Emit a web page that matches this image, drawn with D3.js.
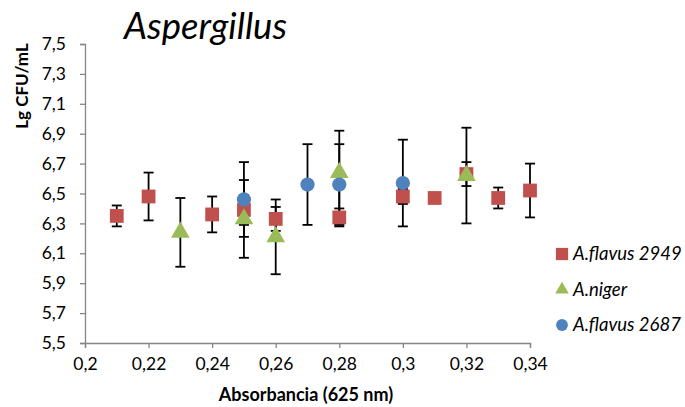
<!DOCTYPE html>
<html>
<head>
<meta charset="utf-8">
<script src="https://cdn.jsdelivr.net/npm/d3@7"></script>
<style>
  body { margin: 0; background: #fff; }
  text { font-family: Lato, "Open Sans", sans-serif; }
</style>
</head>
<body>
<script>
// data
var xTicks = [0.2, 0.22, 0.24, 0.26, 0.28, 0.3, 0.32, 0.34];
var yTicks = [5.5, 5.7, 5.9, 6.1, 6.3, 6.5, 6.7, 6.9, 7.1, 7.3, 7.5];

var flavus2949X = [0.21, 0.22, 0.24, 0.25, 0.26, 0.28, 0.30, 0.31, 0.32, 0.33, 0.34];
var flavus2949Y = [6.35, 6.48, 6.36, 6.39, 6.33, 6.34, 6.48, 6.47, 6.63, 6.47, 6.52];
var flavus2949E = [0.07, 0.16, 0.12, 0.10, 0.08, 0.06, 0.05, 0, 0.08, 0.07, 0.18];

var nigerX = [0.23, 0.25, 0.26, 0.28, 0.32];
var nigerY = [6.24, 6.33, 6.21, 6.64, 6.62];
var nigerE = [0.23, 0.26, 0.25, 0.28, 0.32];

var flavus2687X = [0.25, 0.27, 0.28, 0.30];
var flavus2687Y = [6.46, 6.56, 6.56, 6.57];
var flavus2687E = [0.25, 0.27, 0.27, 0.29];

var seriesNames = ["A.flavus 2949", "A.niger", "A.flavus 2687"];

var width = 685, height = 407;
var svg = d3.select("body").append("svg")
    .attr("width", width)
    .attr("height", height);

var x = d3.scaleLinear().domain([0.2, 0.34]).range([85, 530]);
var y = d3.scaleLinear().domain([5.5, 7.5]).range([343, 44]);

var fmt = function (d) { return d3.format("")(+d.toFixed(2)).replace(".", ","); };

// axes
var xAxis = svg.append("g")
    .attr("transform", "translate(0," + y(5.5) + ")")
    .call(d3.axisBottom(x).tickValues(xTicks).tickFormat(fmt).tickSize(5).tickPadding(10));
var yAxis = svg.append("g")
    .attr("transform", "translate(" + x(0.2) + ",0)")
    .call(d3.axisLeft(y).tickValues(yTicks).tickFormat(fmt).tickSize(5).tickPadding(14));
[xAxis, yAxis].forEach(function (ax) {
    ax.select(".domain").attr("stroke", "#868686").attr("stroke-width", 1.3);
    ax.selectAll(".tick line").attr("stroke", "#868686").attr("stroke-width", 1.3);
    ax.selectAll(".tick text")
        .attr("fill", "#000")
        .style("font-size", "17.5px")
        .style("font-family", "Lato, 'Open Sans', sans-serif");
});

var series = [
    { xs: flavus2949X, ys: flavus2949Y, es: flavus2949E, color: "#C0504D", shape: d3.symbolSquare, size: 190 },
    { xs: nigerX, ys: nigerY, es: nigerE, color: "#9BBB59", shape: d3.symbolTriangle, size: 150 },
    { xs: flavus2687X, ys: flavus2687Y, es: flavus2687E, color: "#4F81BD", shape: d3.symbolCircle, size: 160 }
];

// error bars
var errG = svg.append("g");
series.forEach(function (s) {
    s.xs.forEach(function (xv, i) {
        if (!s.es[i]) return;
        var cx = x(xv), y1 = y(s.ys[i] + s.es[i]), y2 = y(s.ys[i] - s.es[i]);
        errG.append("line").attr("x1", cx).attr("x2", cx).attr("y1", y1).attr("y2", y2)
            .attr("stroke", "#000").attr("stroke-width", 1.8);
        [y1, y2].forEach(function (yy) {
            errG.append("line").attr("x1", cx - 5).attr("x2", cx + 5).attr("y1", yy).attr("y2", yy)
                .attr("stroke", "#000").attr("stroke-width", 1.8);
        });
    });
});

// markers
series.forEach(function (s) {
    svg.append("g").selectAll("path")
        .data(s.xs.map(function (xv, i) { return [xv, s.ys[i]]; }))
        .enter().append("path")
        .attr("transform", function (d) { return "translate(" + x(d[0]) + "," + y(d[1]) + ")"; })
        .attr("d", d3.symbol().type(s.shape).size(s.size))
        .attr("fill", s.color);
});

// title
svg.append("text")
    .attr("x", 124).attr("y", 39)
    .style("font-size", "36.5px").style("font-style", "italic")
    .text("Aspergillus");

// axis titles
svg.append("text")
    .attr("x", 306).attr("y", 401)
    .attr("text-anchor", "middle")
    .style("font-size", "18px").style("font-weight", "bold")
    .text("Absorbancia  (625 nm)");
svg.append("text")
    .attr("transform", "translate(28,86) rotate(-90)")
    .attr("text-anchor", "middle")
    .style("font-size", "17px").style("font-weight", "bold")
    .text("Lg CFU/mL");

// legend
var legend = svg.append("g");
series.forEach(function (s, i) {
    var ly = 254 + i * 35.5;
    legend.append("path")
        .attr("transform", "translate(562," + ly + ")")
        .attr("d", d3.symbol().type(s.shape).size(i === 0 ? 150 : (i === 1 ? 80 : 110)))
        .attr("fill", s.color);
    legend.append("text")
        .attr("x", 573).attr("y", ly + 6)
        .style("font-size", "18.5px").style("font-style", "italic")
        .text(seriesNames[i]);
});
</script>
</body>
</html>
